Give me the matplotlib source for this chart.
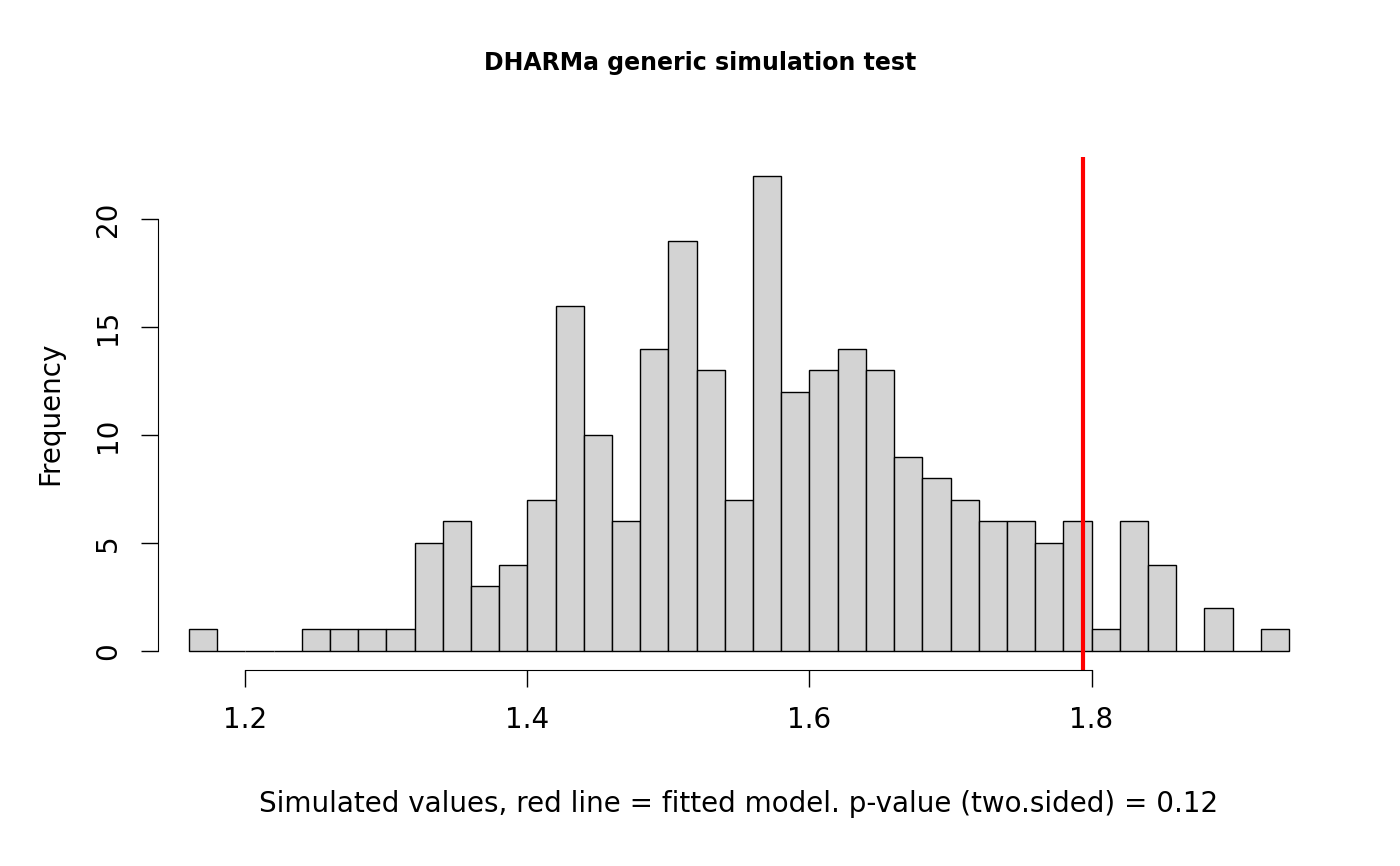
import matplotlib
matplotlib.use("Agg")
import matplotlib.pyplot as plt
import numpy as np

# histogram of simulated values, bins of width 0.02 from 1.16
bin_start = 1.16
bin_width = 0.02
counts = [1, 0, 0, 0, 1, 1, 1, 1, 5, 6, 3, 4, 7, 16, 10, 6, 14, 19, 13, 7,
          22, 12, 13, 14, 13, 9, 8, 7, 6, 6, 5, 6, 1, 6, 4, 0, 2, 0, 1]
observed = 1.7943
x_ticks = [1.2, 1.4, 1.6, 1.8]
y_ticks = [0, 5, 10, 15, 20]

edges = bin_start + bin_width * np.arange(len(counts) + 1)

fig = plt.figure(figsize=(14, 8.66), dpi=100)
ax = fig.add_axes([0.1036, 0.2263, 0.8485, 0.5924])
ax.bar(edges[:-1], counts, width=bin_width, align="edge",
       color="#d3d3d3", edgecolor="black", linewidth=1)
ax.axvline(observed, color="red", linewidth=3)

ax.set_xlim(1.1288, 1.9712)
ax.set_ylim(-0.88, 22.88)

for s in ["top", "right"]:
    ax.spines[s].set_visible(False)
ax.spines["left"].set_bounds(0, 20)
ax.spines["left"].set_position(("data", 1.1383))
ax.spines["bottom"].set_bounds(1.2, 1.8)
ax.set_xticks(x_ticks)
ax.set_xticklabels([f"{v:.1f}" for v in x_ticks])
ax.set_yticks(y_ticks)
ax.set_yticklabels([str(v) for v in y_ticks], rotation=90, va="center")
ax.tick_params(length=12, width=1, labelsize=20, pad=14)

ax.set_xlabel("Simulated values, red line = fitted model. p-value (two.sided) = 0.12",
              fontsize=20, labelpad=40)
ax.set_ylabel("Frequency", fontsize=20, labelpad=22)
fig.text(0.5, 0.927, "DHARMa generic simulation test", ha="center", va="center",
         fontsize=17, fontweight="bold")

fig.savefig("out.png", dpi=100)
